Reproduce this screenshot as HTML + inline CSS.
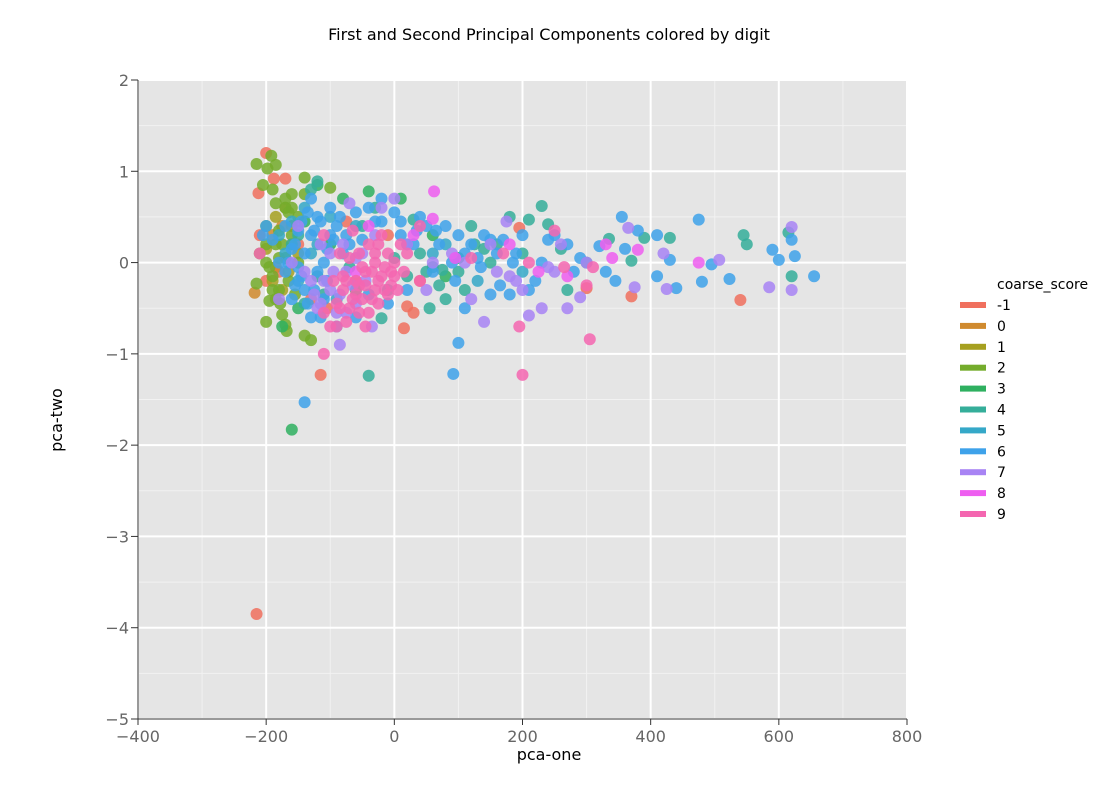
<!DOCTYPE html>
<html><head><meta charset="utf-8"><style>
body{margin:0;background:#fff;font-family:"Liberation Sans","DejaVu Sans",sans-serif}
svg text{font-family:"DejaVu Sans","Liberation Sans",sans-serif}
</style></head><body>
<svg id="chart" width="1100" height="800">
<text x="549" y="40" text-anchor="middle" font-size="16" fill="#000">First and Second Principal Components colored by digit</text>
<rect x="138" y="80" width="769" height="639" fill="#e5e5e5"/>
<g id="grid"></g><g id="axes"></g><g id="points"></g><g id="legend"></g>
<text x="549" y="760" text-anchor="middle" font-size="16" fill="#000">pca-one</text>
<text x="62" y="420" text-anchor="middle" font-size="16" fill="#000" transform="rotate(-90 62 420)">pca-two</text>
</svg>
<script>
const xTicks=[-400,-200,0,200,400,600,800];
const yTicks=[-5,-4,-3,-2,-1,0,1,2];
const groups=["-1","0","1","2","3","4","5","6","7","8","9"];
const colors=["#f0705e","#d08a2e","#a6a020","#74ac2c","#2fb060","#35ae9a","#35a8c8","#3ea2ea","#a884f4","#ee5ef0","#f466b0"];
const gM1=[[-200,1.2],[-212,0.76],[-170,0.92],[-188,0.92],[-215,-3.85],[-115,-1.23],[-200,-0.2],[-210,0.3],[-180,-0.1],[-75,0.45],[-105,-0.5],[20,-0.48],[15,-0.72],[30,-0.55],[-10,0.3],[300,-0.28],[540,-0.41],[370,-0.37],[40,-0.2],[195,0.38],[-150,0.2],[-130,-0.4],[-60,-0.2]];
const g0=[[-218,-0.33],[-190,0.3],[-175,0.4],[-160,0.2],[-185,-0.05]];
const g1=[[-200,0.15],[-185,0.5],[-170,0.6],[-190,-0.2],[-175,-0.3],[-160,0.4],[-150,0.1],[-165,-0.1]];
const g2=[[-215,1.08],[-192,1.17],[-185,1.07],[-198,1.03],[-205,0.85],[-190,0.8],[-185,0.65],[-170,0.6],[-160,0.75],[-140,0.93],[-140,0.75],[-100,0.82],[-200,0.4],[-210,0.1],[-200,0.2],[-195,-0.05],[-190,-0.15],[-180,0.35],[-175,0.2],[-170,0.05],[-165,-0.2],[-180,-0.3],[-195,-0.42],[-200,-0.65],[-175,-0.57],[-170,-0.68],[-168,-0.75],[-140,-0.8],[-130,-0.85],[-160,0.3],[-150,0.5],[-165,0.55],[-185,0.2],[-190,-0.3],[-215,-0.23],[-180,0.05],[-155,-0.35],[-150,0.0],[-200,0.0],[-178,-0.45],[-170,0.7],[-160,0.6],[-185,-0.4]];
const g3=[[-160,-1.83],[-175,-0.7],[-120,0.85],[-80,0.7],[-140,0.45],[-150,-0.5],[-40,0.78],[10,0.7],[60,0.3],[80,-0.15],[100,0.05],[-60,-0.3],[-100,0.2]];
const g4=[[-40,-1.24],[-120,0.89],[-130,0.8],[-20,-0.61],[230,0.62],[240,0.42],[210,0.47],[180,0.5],[150,0.0],[120,0.4],[100,-0.1],[60,-0.05],[70,-0.25],[80,-0.4],[50,-0.1],[40,0.1],[0,0.05],[-30,0.6],[-50,0.4],[270,-0.3],[260,0.15],[300,0.0],[335,0.26],[370,0.02],[390,0.27],[430,0.27],[545,0.3],[615,0.33],[550,0.2],[620,-0.15],[200,0.1],[140,0.15],[110,-0.3],[-140,-0.45],[-160,0.2],[-110,-0.35],[20,-0.15],[160,0.2],[-70,-0.05],[30,0.47],[55,-0.5],[75,-0.08],[125,0.2],[-150,0.3],[-120,-0.15],[-10,-0.3]];
const g5=[[-180,0.3],[-170,0.1],[-150,-0.2],[-140,0.6],[-120,0.2],[-100,0.5],[-90,-0.4],[-60,0.4],[20,0.2],[80,0.2],[130,-0.2],[200,-0.1],[60,0.1],[-160,0.45],[-130,0.1]];
const g6=[[-140,-1.53],[92,-1.22],[100,-0.88],[475,0.47],[355,0.5],[590,0.14],[600,0.03],[655,-0.15],[523,-0.18],[480,-0.21],[495,-0.02],[440,-0.28],[410,-0.15],[430,0.03],[410,0.3],[380,0.35],[360,0.15],[345,-0.2],[330,-0.1],[320,0.18],[290,0.05],[280,-0.1],[250,0.3],[240,0.25],[230,0.0],[220,-0.2],[210,-0.3],[190,0.1],[180,-0.35],[170,0.25],[160,0.1],[150,-0.35],[140,0.3],[130,0.05],[120,0.2],[110,-0.5],[100,0.3],[95,-0.2],[90,0.0],[80,0.4],[70,0.2],[60,-0.1],[40,0.5],[30,0.2],[20,-0.3],[0,0.55],[-20,0.7],[-30,0.45],[-50,0.25],[-60,0.55],[-80,0.1],[-90,0.4],[-100,0.6],[-100,0.3],[-110,0.0],[-110,-0.4],[-120,0.5],[-120,-0.1],[-130,0.3],[-130,-0.6],[-140,0.1],[-140,-0.3],[-150,0.35],[-150,-0.05],[-160,0.15],[-160,-0.4],[-170,0.4],[-170,-0.1],[-180,0.0],[-190,0.25],[-200,0.4],[-205,0.3],[-130,0.7],[-90,-0.7],[-60,-0.6],[-40,-0.35],[-10,-0.45],[10,0.45],[50,0.4],[95,0.05],[200,0.3],[270,0.2],[620,0.25],[625,0.07],[-155,0.2],[-145,0.45],[-135,0.55],[-125,0.35],[-115,0.45],[-105,0.15],[-95,0.25],[-85,0.5],[-75,0.3],[-145,-0.15],[-135,-0.45],[-125,-0.3],[-115,-0.6],[-105,-0.2],[-165,0.0],[-155,-0.25],[-70,0.2],[-40,0.6],[-20,0.45],[10,0.3],[35,0.35],[65,0.35],[110,0.1],[150,0.25],[185,0.0],[135,-0.05],[165,-0.25]];
const g7=[[-180,-0.4],[-160,0.0],[-150,0.4],[-130,-0.2],[-120,-0.5],[-115,0.2],[-100,-0.3],[-100,0.1],[-90,-0.55],[-85,-0.9],[-80,0.2],[-75,-0.1],[-70,0.65],[-60,-0.45],[-50,0.1],[-45,-0.2],[-35,-0.7],[-30,0.3],[-20,0.6],[0,0.7],[20,0.2],[50,-0.3],[90,0.1],[110,0.0],[120,-0.4],[140,-0.65],[160,-0.1],[175,0.45],[190,-0.2],[210,-0.58],[230,-0.5],[250,-0.1],[260,0.2],[270,-0.5],[290,-0.38],[300,0.0],[365,0.38],[375,-0.27],[420,0.1],[425,-0.29],[507,0.03],[585,-0.27],[620,0.39],[620,-0.3],[150,0.2],[200,-0.3],[60,0.0],[-140,-0.1],[-110,-0.2],[-65,-0.25],[-125,-0.35],[-95,-0.1],[-85,-0.35],[-60,0.05],[-115,-0.45],[-75,-0.55],[180,-0.15],[240,-0.05]];
const g8=[[62,0.78],[-40,0.4],[60,0.48],[95,0.05],[270,-0.15],[330,0.2],[340,0.05],[380,0.14],[475,0.0],[-60,-0.1],[30,0.3],[180,0.2],[225,-0.1]];
const g9=[[-110,-1.0],[200,-1.23],[305,-0.84],[195,-0.7],[-100,-0.7],[-90,-0.45],[-80,-0.3],[-80,-0.15],[-70,-0.5],[-70,0.05],[-60,-0.35],[-60,-0.2],[-55,0.1],[-50,-0.05],[-50,-0.4],[-45,-0.25],[-40,0.2],[-40,-0.55],[-35,-0.1],[-30,-0.3],[-30,0.0],[-25,-0.45],[-20,0.3],[-20,-0.15],[-15,-0.05],[-10,-0.35],[-10,0.1],[-5,-0.25],[0,0.0],[5,-0.3],[10,0.2],[15,-0.1],[20,0.1],[40,-0.2],[40,0.4],[-90,-0.7],[-110,0.3],[-110,-0.55],[-210,0.1],[210,0.0],[250,0.35],[265,-0.05],[310,-0.05],[300,-0.25],[-65,0.35],[-75,-0.65],[-45,-0.7],[120,0.05],[170,0.1],[-25,0.2],[0,-0.15],[-95,-0.2],[-85,0.1],[-75,-0.2],[-65,-0.4],[-55,-0.25],[-45,-0.1],[-35,-0.4],[-25,-0.2],[-15,-0.3],[-5,-0.1],[-85,-0.5],[-55,-0.55],[-30,0.1]];
const series=[gM1,g0,g1,g2,g3,g4,g5,g6,g7,g8,g9];

const NS="http://www.w3.org/2000/svg";
const X0=138,X1=907,Y0=719,Y1=80;
const xs=v=>X0+(v+400)/1200*(X1-X0);
const ys=v=>Y0-(v+5)/7*(Y0-Y1);
function mk(tag,attrs,parent){const e=document.createElementNS(NS,tag);for(const k in attrs)e.setAttribute(k,attrs[k]);parent.appendChild(e);return e;}
const grid=document.getElementById('grid'),axes=document.getElementById('axes'),pts=document.getElementById('points'),leg=document.getElementById('legend');
for(let i=0;i<xTicks.length-1;i++){const m=(xTicks[i]+xTicks[i+1])/2;
 const l=mk('line',{x1:xs(m),x2:xs(m),y1:Y1,y2:Y0,stroke:'#f2f2f2','stroke-width':1},grid);
 
 }
for(let i=0;i<yTicks.length-1;i++){const m=(yTicks[i]+yTicks[i+1])/2;
 const l=mk('line',{x1:X0,x2:X1,y1:ys(m),y2:ys(m),stroke:'#f2f2f2','stroke-width':1},grid);
 
 }
xTicks.forEach(t=>{
 const l=mk('line',{x1:xs(t),x2:xs(t),y1:Y1,y2:Y0,stroke:'#fff','stroke-width':2},grid);
 
 
 const tk=mk('line',{x1:xs(t),x2:xs(t),y1:Y0,y2:Y0+6,stroke:'#333','stroke-width':1},axes);
 
 
 const tx=mk('text',{x:xs(t),y:Y0+23,'text-anchor':'middle','font-size':16,fill:'#666'},axes);
 tx.textContent=String(t).replace('-','\u2212');
 
 
});
yTicks.forEach(t=>{
 const l=mk('line',{x1:X0,x2:X1,y1:ys(t),y2:ys(t),stroke:'#fff','stroke-width':2},grid);
 
 
 const tk=mk('line',{x1:X0-7,x2:X0,y1:ys(t),y2:ys(t),stroke:'#333','stroke-width':1},axes);
 
 
 const tx=mk('text',{x:X0-9,y:ys(t)+6,'text-anchor':'end','font-size':16,fill:'#666'},axes);
 tx.textContent=String(t).replace('-','\u2212');
 
 
});
mk('line',{x1:X0,x2:X1,y1:Y0,y2:Y0,stroke:'#333'},axes);
mk('line',{x1:X0,x2:X0,y1:Y1,y2:Y0,stroke:'#333'},axes);
series.forEach((s,gi)=>{s.forEach(p=>{
 const c=mk('circle',{cx:xs(p[0]),cy:ys(p[1]),r:6,fill:colors[gi],'fill-opacity':0.85},pts);
 
 
});});
const lt=mk('text',{x:997,y:289,'font-size':14,fill:'#000'},leg);
lt.textContent='coarse_score';


groups.forEach((g,i)=>{const y=305+i*20.9;
 const r=mk('rect',{x:960,y:y-3,width:26,height:6,fill:colors[i]},leg);
 
 
 const t=mk('text',{x:997,y:y+5,'font-size':14,fill:'#000'},leg);
 t.textContent=g;
 
 
});
</script>
</body></html>
